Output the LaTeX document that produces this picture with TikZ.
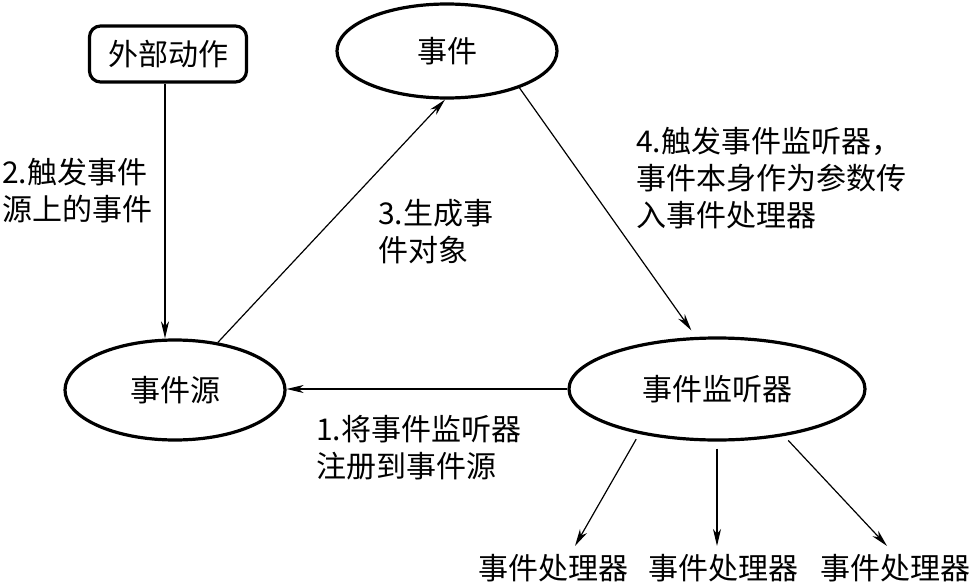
\documentclass[tikz,border=0pt]{standalone}
\usepackage{fontspec}
\setmainfont{Noto Sans CJK SC}
\usetikzlibrary{shapes.geometric,arrows.meta}
\begin{document}
\begin{tikzpicture}[x=1pt,y=-1pt,
  every node/.style={font=\fontsize{30}{37}\selectfont, inner sep=0pt},
  oval/.style={draw, ellipse, line width=3.2pt},
  actbox/.style={draw, rectangle, rounded corners=11pt, line width=3.2pt, minimum width=157pt, minimum height=56pt},
  lbl/.style={align=left, anchor=west},
  arr/.style={-{Stealth[length=17pt,width=8pt,inset=5pt]}, line width=1.2pt}]
\useasboundingbox (0,0) rectangle (974,586);
\fill[white] (0,0) rectangle (974,586);
% nodes
\node[actbox] (ext) at (168,54) {外部动作};
\node[oval, minimum width=220pt, minimum height=94pt] (evt) at (447,51) {事件};
\node[oval, minimum width=220pt, minimum height=100pt] (src) at (175,390) {事件源};
\node[oval, minimum width=296pt, minimum height=102pt] (lis) at (717,389) {事件监听器};
\node (h1) at (553,568) {事件处理器};
\node (h2) at (723,568) {事件处理器};
\node (h3) at (895,568) {事件处理器};
% labels
\node[lbl] (l2) at (2,191) {2.触发事件\\源上的事件};
\node[lbl] (l3) at (378,232) {3.生成事\\件对象};
\node[lbl] (l4) at (636,178) {4.触发事件监听器，\\事件本身作为参数传\\入事件处理器};
\node[lbl] (l1) at (316,448) {1.将事件监听器\\注册到事件源};
% connectors
\draw[arr] ([xshift=-3pt]ext.south) -- ([xshift=-3pt]ext.south |- src.north);
\draw[arr] (src.48) -- ([xshift=-2pt]evt.south);
\draw[arr, shorten >=8pt] (evt.-27) -- (lis.112);
\draw[arr] (lis.west) -- (lis.west -| src.east);
\draw[arr, shorten <=6pt] (lis.-150) -- ([xshift=22pt,yshift=8pt]h1.north);
\draw[arr, shorten <=7pt] (lis.south) -- ([xshift=-6pt,yshift=8pt]h2.north);
\draw[arr, shorten <=6pt] (lis.-35) -- ([xshift=-8pt,yshift=8pt]h3.north);
\end{tikzpicture}
\end{document}
